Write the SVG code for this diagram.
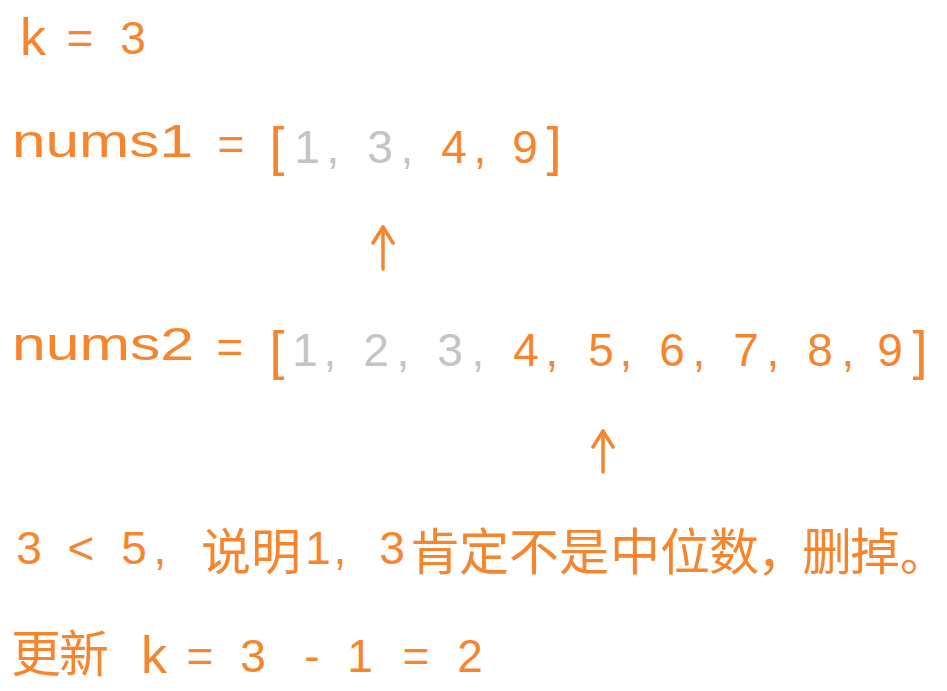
<svg xmlns="http://www.w3.org/2000/svg" width="947" height="691" viewBox="0 0 947 691">
<style>
  .t { font-family: "Liberation Sans", "DejaVu Sans", sans-serif; font-size: 46px; fill: #F7852E; }
  .g { fill: #C4C4C4; }
  .br { font-size: 54px; }
  .kk { font-size: 52px; }
  .cjk { font-family: "Noto Sans CJK SC", "Noto Sans CJK TC", sans-serif; font-size: 50px; fill: #F7852E; }
  .c { text-anchor: middle; }
  .arrow { stroke: #F7852E; stroke-width: 3.5; fill: none; stroke-linecap: round; stroke-linejoin: round; }
</style>
<defs>
  <marker id="head" viewBox="-20 -12 24 24" markerWidth="24" markerHeight="24" refX="0" refY="0" orient="auto" markerUnits="userSpaceOnUse">
    <path d="M-16,-10 L0,0 L-16,10" fill="none" stroke="#F7852E" stroke-width="3.5" stroke-linecap="round" stroke-linejoin="round"/>
  </marker>
</defs>
<rect width="947" height="691" fill="#FFFFFF"/>

<g id="line-k">
  <text class="t c kk" x="33" y="55">k</text>
  <text class="t c" x="80 133" y="54">=3</text>
</g>

<g id="line-nums1">
  <text class="t" x="12" y="157" textLength="181" lengthAdjust="spacingAndGlyphs">nums1</text>
  <text class="t c" x="231" y="160">=</text>
  <text class="t c br" x="277" y="165">[</text>
  <text class="t c g" x="307 333 380 407" y="163">1,3,</text>
  <text class="t c" x="454 480 525" y="163">4,9</text>
  <text class="t c br" x="554" y="165">]</text>
</g>

<g id="line-nums2">
  <text class="t" x="12" y="360" textLength="182" lengthAdjust="spacingAndGlyphs">nums2</text>
  <text class="t c" x="230" y="363">=</text>
  <text class="t c br" x="277" y="369">[</text>
  <text class="t c g" x="305 330 376 403 450 478" y="366">1,2,3,</text>
  <text class="t c" x="526 552 601 626 672 699 746 773 820 848 890" y="366">4,5,6,7,8,9</text>
  <text class="t c br" x="920" y="369">]</text>
</g>

<g id="note">
  <text class="t c" x="29 81 134 160" y="564">3&lt;5,</text>
  <text class="cjk" x="201 251" y="570">说明</text>
  <text class="t c" x="318 340 392" y="564">1,3</text>
  <text class="cjk" x="410 459 509 559 610 660 709 757 802 850" y="570">肯定不是中位数，删掉</text>
  <text class="cjk" x="900" y="570" style="font-size:46px">。</text>
</g>

<g id="update">
  <text class="cjk" x="11 59" y="672">更新</text>
  <text class="t c kk" x="154" y="673">k</text>
  <text class="t c" x="200 253 312 360 416 470" y="672">=3-1=2</text>
</g>

<g id="connectors">
  <line class="arrow" x1="383" y1="269" x2="383" y2="227" marker-end="url(#head)"/>
  <line class="arrow" x1="603" y1="472" x2="603" y2="431" marker-end="url(#head)"/>
</g>
</svg>
